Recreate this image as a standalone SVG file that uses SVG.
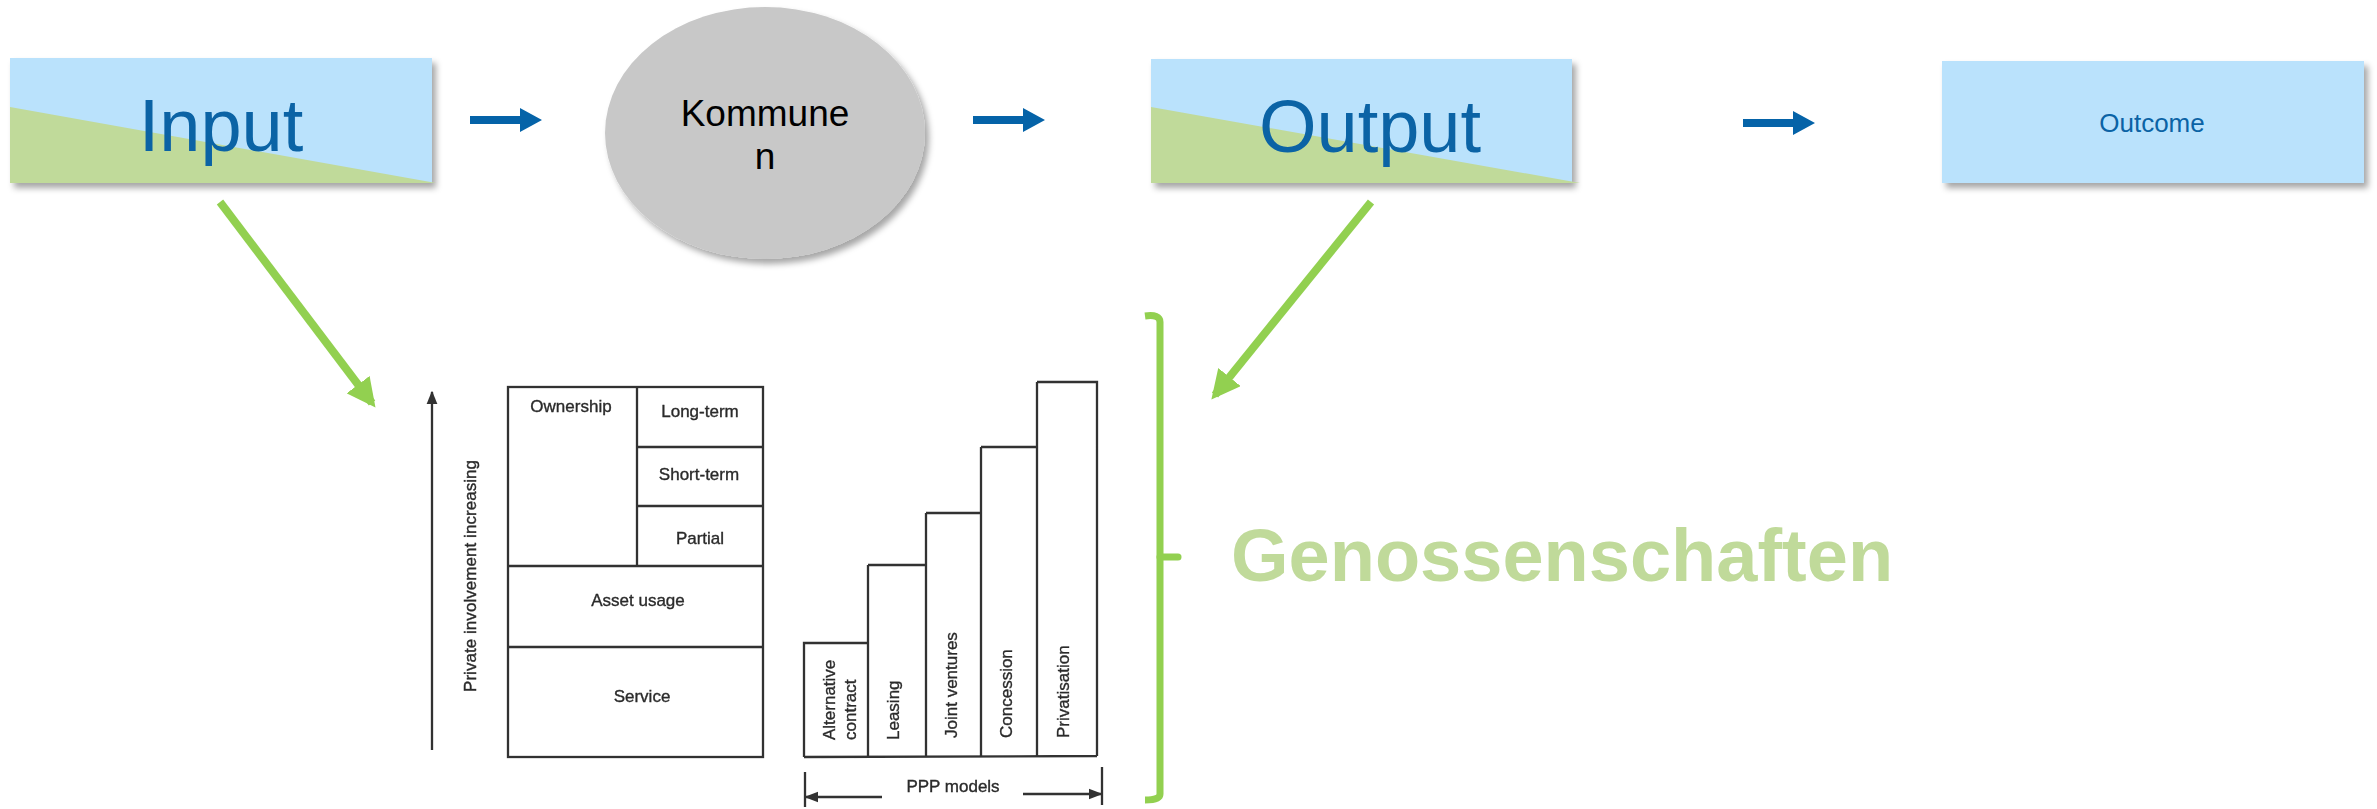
<svg xmlns="http://www.w3.org/2000/svg" width="2377" height="809" viewBox="0 0 2377 809">
<style>
.blue{fill:#BAE2FC}
.grn{fill:#C0DA9A}
.big{font-family:"Liberation Sans",Arial,sans-serif;font-size:74px;fill:#0B63A5;text-anchor:middle}
.sm{font-family:"Liberation Sans",Arial,sans-serif;fill:#2a2a2a;stroke:#2a2a2a;stroke-width:0.35;font-size:17px}
.mid{text-anchor:middle}
.ln{fill:none;stroke:#333;stroke-width:2.3}
.garrow{stroke:#92D050;stroke-width:8;fill:none}
</style>
<defs>
<filter id="sh" x="-10%" y="-10%" width="130%" height="130%">
<feDropShadow dx="4" dy="5" stdDeviation="3" flood-color="#000" flood-opacity="0.35"/>
</filter>
<filter id="soft"><feGaussianBlur stdDeviation="0.6"/></filter>
<marker id="gh" viewBox="0 0 10 10" refX="8" refY="5" markerWidth="3.6" markerHeight="3.6" orient="auto" markerUnits="strokeWidth">
<path d="M0,0 L10,5 L0,10 z" fill="#92D050"/>
</marker>
<marker id="kh" viewBox="0 0 10 10" refX="9" refY="5" markerWidth="6" markerHeight="6" orient="auto" markerUnits="strokeWidth">
<path d="M0,1 L10,5 L0,9 z" fill="#333"/>
</marker>
<path id="barrow" d="M0,-4 L50,-4 L50,-12 L72,0 L50,12 L50,4 L0,4 z" fill="#0563A8"/>
</defs>

<g id="input">
<rect x="10" y="58" width="422" height="125" class="blue" filter="url(#sh)"/>
<polygon points="10,107 436,183 10,183" class="grn"/>
<text x="221" y="151" class="big">Input</text>
</g>

<g id="kommunen">
<ellipse cx="765" cy="133" rx="160" ry="126" fill="#C8C8C8" filter="url(#sh)"/>
<text x="765" y="126" font-family="Liberation Sans,Arial,sans-serif" font-size="37" fill="#000" text-anchor="middle">Kommune</text>
<text x="765" y="169" font-family="Liberation Sans,Arial,sans-serif" font-size="37" fill="#000" text-anchor="middle">n</text>
</g>

<g id="output">
<rect x="1151" y="59" width="421" height="124" class="blue" filter="url(#sh)"/>
<polygon points="1151,107 1580,183 1151,183" class="grn"/>
<text x="1370" y="152" class="big">Output</text>
</g>

<g id="outcome">
<rect x="1942" y="61" width="422" height="122" class="blue" filter="url(#sh)"/>
<text x="2152" y="132" font-family="Liberation Sans,Arial,sans-serif" font-size="26" fill="#0B63A5" text-anchor="middle">Outcome</text>
</g>

<g id="connectors">
<use href="#barrow" x="470" y="120"/>
<use href="#barrow" x="973" y="120"/>
<use href="#barrow" x="1743" y="123"/>
<line x1="220" y1="202" x2="372" y2="403" class="garrow" marker-end="url(#gh)"/>
<line x1="1371" y1="202" x2="1215" y2="395" class="garrow" marker-end="url(#gh)"/>
</g>

<g id="bracket">
<path d="M1145,316 Q1160,314 1160,322 L1160,794 Q1160,800 1145,800" fill="none" stroke="#92D050" stroke-width="7"/>
<path d="M1160,557 L1178,557" stroke="#92D050" stroke-width="7" stroke-linecap="round"/>
</g>

<g id="genossenschaften">
<text x="1231" y="581" font-family="Liberation Sans,Arial,sans-serif" font-size="74" font-weight="bold" fill="#C0DA9A">Genossenschaften</text>
</g>

<g id="ppp-figure" filter="url(#soft)">
<line x1="432" y1="750" x2="432" y2="392" class="ln" marker-end="url(#kh)"/>
<text transform="translate(476,692) rotate(-90)" class="sm" textLength="232">Private involvement increasing</text>

<rect x="508" y="387" width="255" height="370" class="ln"/>
<line x1="637" y1="387" x2="637" y2="566" class="ln"/>
<line x1="637" y1="447" x2="763" y2="447" class="ln"/>
<line x1="637" y1="506" x2="763" y2="506" class="ln"/>
<line x1="508" y1="566" x2="763" y2="566" class="ln"/>
<line x1="508" y1="647" x2="763" y2="647" class="ln"/>
<text x="571" y="412" class="sm mid">Ownership</text>
<text x="700" y="417" class="sm mid">Long-term</text>
<text x="699" y="480" class="sm mid">Short-term</text>
<text x="700" y="544" class="sm mid">Partial</text>
<text x="638" y="606" class="sm mid">Asset usage</text>
<text x="642" y="702" class="sm mid">Service</text>

<path d="M804,757 L804,643 L868,643 L868,757 M868,565 L926,565 L926,757 M868,643 L868,565 M926,513 L981,513 L981,757 M926,565 L926,513 M981,447 L1037,447 L1037,757 M981,513 L981,447 M1037,382 L1097,382 L1097,756 M1037,447 L1037,382 M804,757 L1097,756" class="ln"/>
<text transform="translate(835,740) rotate(-90)" class="sm">Alternative</text>
<text transform="translate(856,740) rotate(-90)" class="sm">contract</text>
<text transform="translate(899,740) rotate(-90)" class="sm">Leasing</text>
<text transform="translate(957,738) rotate(-90)" class="sm">Joint ventures</text>
<text transform="translate(1012,738) rotate(-90)" class="sm">Concession</text>
<text transform="translate(1069,738) rotate(-90)" class="sm">Privatisation</text>

<line x1="805" y1="772" x2="805" y2="807" class="ln"/>
<line x1="1102" y1="767" x2="1102" y2="805" class="ln"/>
<line x1="882" y1="797" x2="806" y2="797" class="ln" marker-end="url(#kh)"/>
<line x1="1023" y1="794" x2="1101" y2="794" class="ln" marker-end="url(#kh)"/>
<text x="953" y="792" class="sm mid">PPP models</text>
</g>
</svg>
